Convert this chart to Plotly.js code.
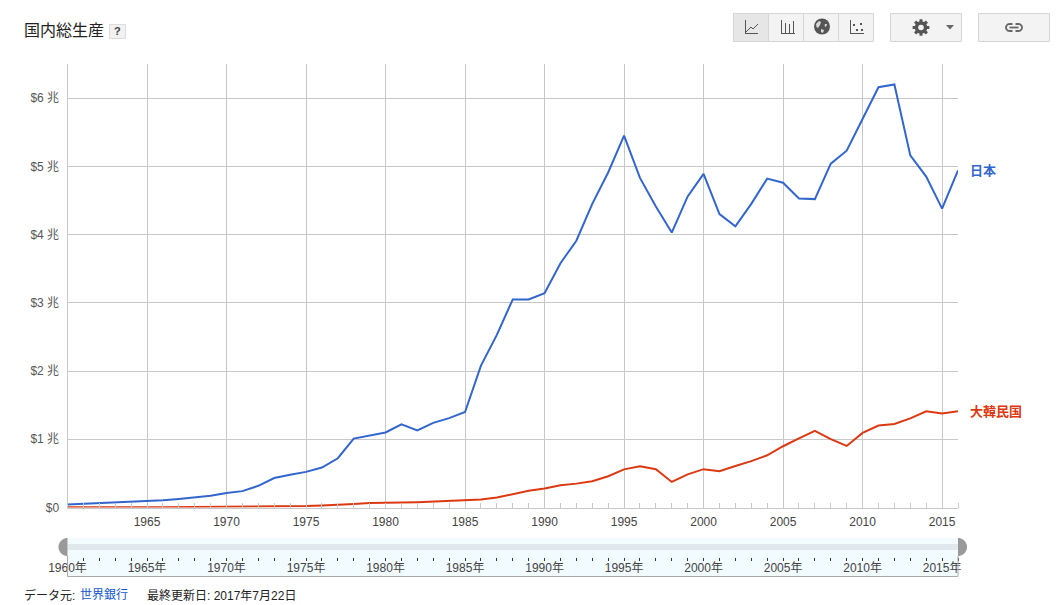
<!DOCTYPE html>
<html><head><meta charset="utf-8">
<script src="https://cdn.plot.ly/plotly-3.0.1.min.js"></script>
<style>html,body{margin:0;padding:0;background:#fff}#c{width:1060px;height:605px}</style>
</head><body><div id="c"></div>
<script>
const years=[1960,1961,1962,1963,1964,1965,1966,1967,1968,1969,1970,1971,1972,1973,1974,1975,1976,1977,1978,1979,1980,1981,1982,1983,1984,1985,1986,1987,1988,1989,1990,1991,1992,1993,1994,1995,1996,1997,1998,1999,2000,2001,2002,2003,2004,2005,2006,2007,2008,2009,2010,2011,2012,2013,2014,2015,2016];
const japan=[.044,.054,.061,.070,.082,.091,.105,.124,.147,.172,.212,.240,.318,.432,.479,.522,.586,.722,1.01,1.05,1.10,1.22,1.13,1.24,1.31,1.40,2.08,2.53,3.05,3.05,3.14,3.58,3.91,4.45,4.91,5.45,4.83,4.41,4.03,4.56,4.89,4.30,4.12,4.45,4.82,4.76,4.53,4.52,5.04,5.23,5.70,6.16,6.20,5.16,4.85,4.38,4.94];
const korea=[.004,.002,.003,.004,.003,.003,.004,.005,.006,.008,.009,.0095,.011,.014,.02,.021,.03,.038,.052,.066,.065,.072,.078,.087,.097,.10,.116,.146,.196,.244,.279,.326,.35,.386,.458,.559,.603,.56,.375,.486,.562,.533,.609,.68,.765,.898,1.012,1.122,1.002,.902,1.094,1.202,1.223,1.306,1.411,1.378,1.411];
const yTickVals=[0,1,2,3,4,5,6];
const yTickText=['$0','$1 兆','$2 兆','$3 兆','$4 兆','$5 兆','$6 兆'];
const xTickVals=[1965,1970,1975,1980,1985,1990,1995,2000,2005,2010,2015];
const xTickText=['1965','1970','1975','1980','1985','1990','1995','2000','2005','2010','2015'];
const sliderTickVals=[1960,1965,1970,1975,1980,1985,1990,1995,2000,2005,2010,2015];
const sliderTickText=['1960年','1965年','1970年','1975年','1980年','1985年','1990年','1995年','2000年','2005年','2010年','2015年'];
const seriesNames=['日本','大韓民国'];
const seriesColors=['#3366cc','#dc3912'];
const titleText='国内総生産';

const W=1060,H=605;
const FONT='"Liberation Sans","Noto Sans CJK JP",sans-serif';
const px=x=>x/W, py=y=>1-y/H;
const rect=(x0,y0,x1,y1,fill,line,layer)=>({type:'rect',xref:'paper',yref:'paper',x0:px(x0),x1:px(x1),y0:py(y0),y1:py(y1),fillcolor:fill,line:line?{color:line,width:1}:{width:0},layer:layer||'below'});
const seg=(x0,y0,x1,y1,c,w)=>({type:'line',xref:'paper',yref:'paper',x0:px(x0),x1:px(x1),y0:py(y0),y1:py(y1),line:{color:c,width:w||1},layer:'above'});
const poly=(pts,fill,line,w)=>({type:'path',xref:'paper',yref:'paper',path:pts.map((p,i)=>(i?'L':'M')+px(p[0])+','+py(p[1])).join(' ')+(fill?' Z':''),fillcolor:fill||'rgba(0,0,0,0)',line:line?{color:line,width:w||1}:{width:0},layer:'above'});
const circle=(cx,cy,r,fill,line,w)=>({type:'circle',xref:'paper',yref:'paper',x0:px(cx-r),x1:px(cx+r),y0:py(cy+r),y1:py(cy-r),fillcolor:fill,line:line?{color:line,width:w||1}:{width:0},layer:'above'});
const gearPts=(cx,cy,ro,ri,n)=>{const a=[];for(let i=0;i<n;i++){const t=i*2*Math.PI/n,d=Math.PI/n;
  [[ro,-d*.45],[ro,d*.45],[ri,d*.62],[ri,2*d-d*.62]].forEach(([r,o])=>a.push([cx+r*Math.cos(t+o),cy+r*Math.sin(t+o)]));}return a;};
const semi=(cx,cy,r,dir)=>{const a=[];for(let i=0;i<=20;i++){const t=-Math.PI/2+i*Math.PI/20;a.push([cx+dir*r*Math.cos(t),cy+r*Math.sin(t)]);}return a;};
const ICON='#555',BORDER='#d5d5d5',BTN='#f3f3f3';

const shapes=[
  // slider
  rect(67.5,538,958,576.5,'#f2fbff',null),
  rect(67.5,544,958,550,'#e1e8ec',null),
  seg(67.5,556,67.5,576.5,'#aaa',1),seg(958,556,958,576.5,'#aaa',1),seg(67.5,576.5,958,576.5,'#aaa',1),
  poly(semi(67.5,547,9,-1),'#999'),poly(semi(958,547,9,1),'#999'),
  // help button
  rect(109.5,24.5,125.5,38.5,'#f1f1f1','#dcdcdc'),
  // chart type buttons
  rect(733.5,13.5,873.5,41.5,BTN,BORDER),
  rect(733.5,13.5,768.5,41.5,'#e6e6e6',BORDER),
  seg(803.5,14,803.5,41,BORDER),seg(838.5,14,838.5,41,BORDER),
  // settings and link buttons
  rect(890.5,13.5,961.5,41.5,BTN,BORDER),
  rect(978.5,13.5,1049.5,41.5,BTN,BORDER),
  // line icon
  seg(745.5,20,745.5,33.5,ICON),seg(745,33.5,758,33.5,ICON),
  poly([[746,32],[751,27],[753,29],[758,24]],null,ICON),
  // bar icon
  seg(781.5,20,781.5,33,ICON),seg(785.5,23,785.5,33,ICON),seg(789.5,24,789.5,33,ICON),seg(793.5,21,793.5,33,ICON),seg(781,33.5,795,33.5,ICON),
  // globe icon
  circle(822,26.5,8,ICON),
  poly([[816,24],[819,21],[821,22],[820,25],[818,28],[816.5,27]],'#d8d8d8'),
  poly([[825,24],[827,24],[826,27],[824.5,26]],'#d8d8d8'),
  poly([[821,29],[824,30],[823,33],[821,32]],'#d8d8d8'),
  // scatter icon
  seg(850.5,20,850.5,33.5,ICON),seg(850,33.5,864,33.5,ICON),
  rect(853,24,855,26,ICON,null,'above'),rect(856,29,858,31,ICON,null,'above'),rect(860,23,862,25,ICON,null,'above'),rect(861,29,863,31,ICON,null,'above'),
  // gear
  poly(gearPts(921,27.5,8.5,6.3,8),'#555'),circle(921,27.5,2.8,BTN),
  poly([[946,25],[954,25],[950,29.5]],'#666'),
  // link
  poly(semi(1009.5,27.5,3.5,-1).concat([[1012.5,31]]).reverse().concat([[1012.5,24]]).reverse(),null,'#666',1.8),
  poly(semi(1018.5,27.5,3.5,1).concat([[1015.5,31]]).reverse().concat([[1015.5,24]]).reverse(),null,'#666',1.8),
  seg(1009.5,27.5,1018.5,27.5,'#666',1.8)
];

const note=(text,x,y,size,color,anchor,bold)=>({xref:'paper',yref:'paper',x:px(x),y:py(y),text:bold?'<b>'+text+'</b>':text,showarrow:false,xanchor:anchor||'left',yanchor:'middle',align:'left',font:{size:size,color:color,family:FONT}});
const annotations=[
  note(titleText,21.5,30,16,'#222'),
  note('?',117.5,31.5,11,'#444','center',true),
  note('データ元: ',22,595,12,'#222'),
  note('世界銀行',77.5,595,12,'#1155cc'),
  note('最終更新日: 2017年7月22日',144.5,595,12,'#222'),
  {xref:'x',yref:'y',x:years[years.length-1],y:japan[japan.length-1],xshift:10,showarrow:false,xanchor:'left',yanchor:'middle',text:'<b>'+seriesNames[0]+'</b>',font:{size:13,color:seriesColors[0],family:FONT}},
  {xref:'x',yref:'y',x:years[years.length-1],y:korea[korea.length-1],xshift:10,showarrow:false,xanchor:'left',yanchor:'middle',text:'<b>'+seriesNames[1]+'</b>',font:{size:13,color:seriesColors[1],family:FONT}}
];

const traces=[
  {x:years,y:japan,name:seriesNames[0],mode:'lines',line:{color:seriesColors[0],width:2},hovertemplate:'%{x}: $%{y} 兆<extra>日本</extra>'},
  {x:years,y:korea,name:seriesNames[1],mode:'lines',line:{color:seriesColors[1],width:2},hovertemplate:'%{x}: $%{y} 兆<extra>大韓民国</extra>'},
  {x:years,y:korea,xaxis:'x2',yaxis:'y2',mode:'none',showlegend:false,hoverinfo:'skip'}
];
const layout={
  width:W,height:H,margin:{l:0,r:0,t:0,b:0},showlegend:false,
  paper_bgcolor:'#fff',plot_bgcolor:'rgba(0,0,0,0)',font:{family:FONT,size:12,color:'#444'},
  xaxis:{domain:[67.5/W,958/W],range:[1960,2016],tickmode:'array',tickvals:xTickVals,ticktext:xTickText,
    showgrid:true,gridcolor:'#c8c8c8',gridwidth:1,zeroline:false,showline:true,linecolor:'#c8c8c8',linewidth:1,
    ticks:'',ticklen:0,ticklabelstandoff:3,tickfont:{size:12,color:'#444',family:FONT},anchor:'y',
    minor:{tickmode:'linear',tick0:1960,dtick:1,ticks:'inside',ticklen:5,tickcolor:'#c8c8c8',tickwidth:1,showgrid:false}},
  yaxis:{domain:[97.5/H,(H-64)/H],range:[0,6.5],tickmode:'array',tickvals:yTickVals,ticktext:yTickText,
    showgrid:true,gridcolor:'#c8c8c8',gridwidth:1,zeroline:false,showline:true,linecolor:'#c8c8c8',linewidth:1,
    ticks:'',ticklabelstandoff:5,tickfont:{size:12,color:'#555',family:FONT},anchor:'x'},
  xaxis2:{domain:[67.5/W,958/W],range:[1960,2016],tickmode:'array',tickvals:sliderTickVals,ticktext:sliderTickText,
    showgrid:false,zeroline:false,showline:false,ticks:'outside',ticklen:3,tickcolor:'#333',tickwidth:1,ticklabelstandoff:-3,
    tickfont:{size:12,color:'#444',family:FONT},anchor:'y2',
    minor:{tickmode:'linear',tick0:1960,dtick:1,ticks:'outside',ticklen:3,tickcolor:'#333',tickwidth:1,showgrid:false}},
  yaxis2:{domain:[(H-557)/H,(H-538)/H],range:[0,1],visible:false,anchor:'x2',fixedrange:true},
  shapes:shapes,annotations:annotations
};
Plotly.newPlot('c',traces,layout,{displayModeBar:false,responsive:false});
</script></body></html>
